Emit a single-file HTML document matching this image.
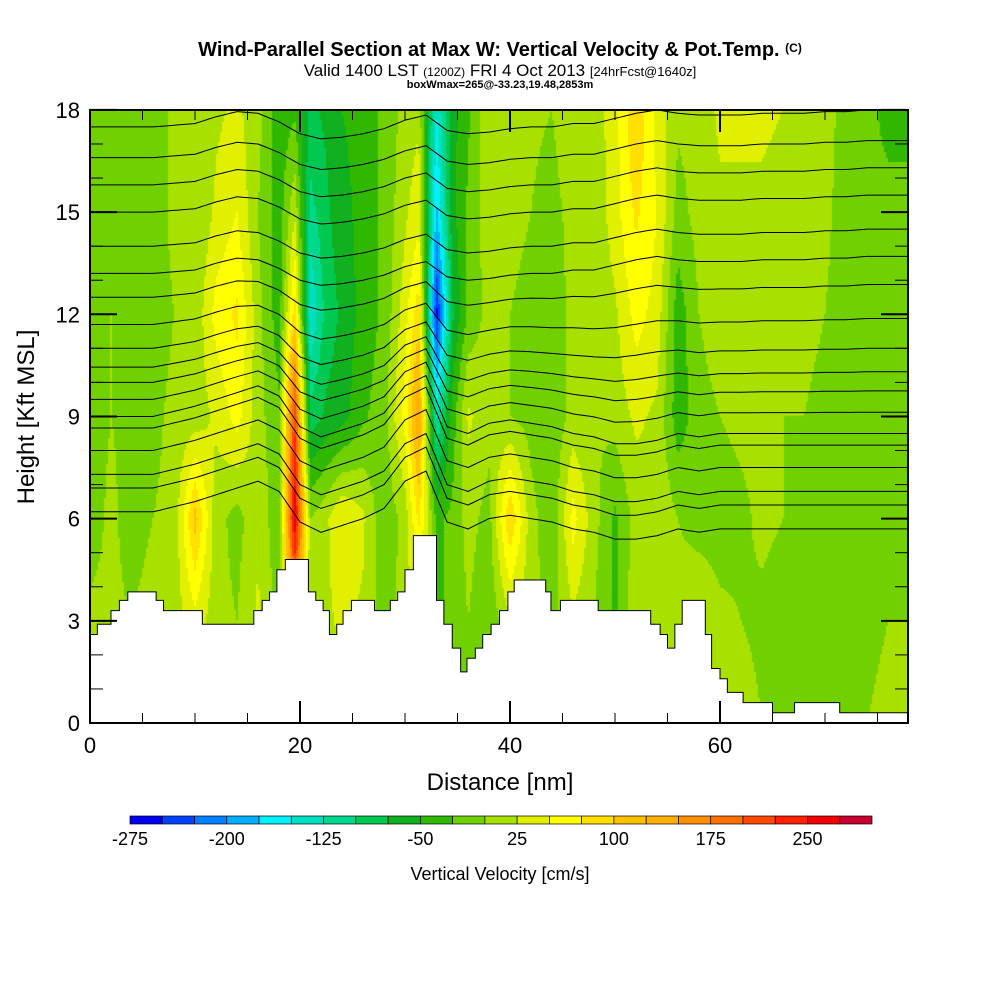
<!DOCTYPE html>
<html><head><meta charset="utf-8"><style>
body{margin:0;background:#fff;width:1000px;height:1000px;overflow:hidden;position:relative;font-family:"Liberation Sans",sans-serif}
#fld{position:absolute;left:90px;top:110px}
svg{position:absolute;left:0;top:0}
</style></head><body>
<canvas id="fld" width="818" height="613"></canvas>
<svg id="s" width="1000" height="1000">
<text x="500" y="56" text-anchor="middle" font-size="20" font-weight="bold">Wind-Parallel Section at Max W: Vertical Velocity &amp; Pot.Temp. <tspan font-size="12" dy="-4">(C)</tspan></text>
<text x="500" y="76" text-anchor="middle" font-size="17">Valid 1400 LST <tspan font-size="12">(1200Z)</tspan> FRI 4 Oct 2013 <tspan font-size="13">[24hrFcst@1640z]</tspan></text>
<text x="500" y="88" text-anchor="middle" font-size="11" font-weight="bold">boxWmax=265@-33.23,19.48,2853m</text>
<g id="cont"></g>
<path id="terr" fill="#fff" stroke="#000" stroke-width="1"/>
<g id="ax"></g>
<text x="500" y="790" text-anchor="middle" font-size="24">Distance [nm]</text>
<text transform="translate(34,417) rotate(-90)" text-anchor="middle" font-size="24">Height [Kft MSL]</text>
<g id="cb"></g>
<text x="500" y="880" text-anchor="middle" font-size="18">Vertical Velocity [cm/s]</text>
</svg>
<script>
const colX=[0,2,4,6,8,10,12,14,16,18,19.5,21,22.5,24,26,28,30,31.3,33,34.5,36,38,40,42,44,46,48,50,52,54,56,58,60,62,64,66,68,70,72,74,76,78];
const rowZ=[18,15,12,9,6,3,0];
const w18=[-10,-5,-10,-15,5,0,20,30,10,-40,-30,-80,-70,-50,-40,-20,10,20,-150,-60,-30,20,10,5,0,20,10,40,100,40,5,10,30,30,30,25,20,10,-10,-20,-30,-30];
const w15=[-10,-5,-10,-10,5,0,30,50,0,-40,20,-110,-80,-60,-40,-20,20,40,-180,-60,-20,15,5,0,-10,10,5,40,80,50,-10,10,20,20,20,15,10,5,-10,-20,-20,-20];
const w12=[-10,0,-10,-10,0,5,60,80,10,-40,90,-150,-90,-70,-40,-20,40,90,-260,-80,-20,10,0,-5,-20,10,0,20,60,40,-40,0,15,10,10,5,5,0,-10,-15,-20,-20];
const w9=[-10,0,-5,-5,5,10,30,60,10,-20,220,-90,-70,-60,-30,-10,60,150,-130,-40,30,10,0,-10,-20,10,0,10,30,20,-40,-10,0,5,5,0,0,-5,-10,-10,-15,-15];
const w6=[-10,5,-10,0,5,110,10,-10,20,-20,270,0,20,50,30,-20,10,80,-30,-20,10,-10,100,10,-20,60,10,-30,10,20,0,-10,-10,-5,5,0,-5,-10,-15,-20,-20,-20];
const w3=[5,5,0,10,10,40,10,0,30,-10,150,10,20,30,20,-10,10,40,-30,-20,0,-20,20,10,-10,20,0,-30,20,20,10,20,5,0,-5,-10,-20,-10,-20,-10,0,0];
const w0=[5,5,5,10,10,20,10,0,10,0,20,10,10,20,10,0,10,10,0,-10,0,-20,10,10,-10,10,0,-10,20,10,10,20,20,10,0,-10,-20,-10,-10,0,10,10];
const terrX=[0,0.7,2,2.8,3.6,6.3,7,10.7,15.6,16.4,17.1,17.8,18.6,20.8,21.5,22.2,22.8,23.5,24.1,24.9,27.1,28.6,29.3,30,30.8,33,33.7,34.5,35.3,35.9,36.7,37.4,38.2,39,39.8,40.4,43.4,43.9,44.8,48.4,49.3,53.4,54.3,55,55.7,56.4,58.6,59.2,60,60.7,62.2,65,67.1,71.4,78];
const terrH=[2.6,2.9,3.3,3.6,3.85,3.6,3.3,2.9,3.3,3.6,3.85,4.5,4.8,3.85,3.6,3.3,2.6,2.9,3.3,3.6,3.3,3.6,3.85,4.5,5.5,3.6,2.9,2.2,1.5,1.9,2.2,2.6,2.9,3.3,3.85,4.2,3.85,3.3,3.6,3.3,3.3,2.9,2.6,2.2,2.9,3.6,2.6,1.6,1.3,0.9,0.6,0.3,0.6,0.3,0.3];
const thetaLevels=[17.5,16.6,15.8,15.0,14.0,13.2,12.5,11.7,11.0,10.45,10.0,9.5,9.0,8.66,8.0,7.3,6.9,6.2];
const dispX=[0,2,4,6,8,10,12,14,16,18,20,22,24,26,28,30,32,34,36,38,40,42,44,46,48,50,52,54,56,58,60,62,64,66,68,70,72,74,76,78];
const dispUpper=[0,0,0,0,0.05,0.1,0.3,0.45,0.4,0.15,-0.2,-0.35,-0.3,-0.2,-0.05,0.2,0.35,-0.1,-0.2,-0.15,-0.05,0,0,0.1,0.1,0.25,0.4,0.5,0.4,0.35,0.35,0.35,0.4,0.4,0.4,0.45,0.45,0.5,0.5,0.5];
const dispLower=[0,0,0,0,0.15,0.3,0.5,0.7,0.9,0.6,-0.3,-0.6,-0.4,-0.2,0.1,0.9,1.2,-0.3,-0.5,-0.2,-0.1,-0.2,-0.3,-0.5,-0.6,-0.8,-0.8,-0.7,-0.5,-0.6,-0.5,-0.5,-0.5,-0.5,-0.5,-0.5,-0.5,-0.5,-0.5,-0.5];
const cbColors=["#0000f0","#0040ff","#0080ff","#00b0ff","#00f0ff","#00e0c0","#00d890","#00c850","#10b020","#30b800","#70d000","#a8e000","#e0f000","#ffff00","#ffe000","#ffc000","#ffb000","#ff9000","#ff7000","#ff4800","#ff2000","#f00000","#c80030"];
const cbLabels=["-275","-200","-125","-50","25","100","175","250"];
const xTicks=[0,20,40,60];
const yTicks=[0,3,6,9,12,15,18];

const L=90,R=908,T=110,B=723;
const sx=v=>L+v*10.5, sz=v=>B-v*34.06;
const NS="http://www.w3.org/2000/svg";
const rows=[w18,w15,w12,w9,w6,w3,w0];
function seg(xs,x){let i=0;while(i<xs.length-2&&x>xs[i+1])i++;return [i,Math.min(1,Math.max(0,(x-xs[i])/(xs[i+1]-xs[i])))];}
function val(x,z){const [i,f]=seg(colX,x);let j=Math.min(rowZ.length-2,Math.max(0,Math.floor((18-z)/3)));const g=Math.min(1,Math.max(0,(rowZ[j]-z)/3));
 const a=rows[j][i]*(1-f)+rows[j][i+1]*f, b=rows[j+1][i]*(1-f)+rows[j+1][i+1]*f;return a*(1-g)+b*g;}
function colorFor(v){let k=Math.floor((v+275)/25);k=Math.max(0,Math.min(cbColors.length-1,k));return cbColors[k];}
const ctx=document.getElementById('fld').getContext('2d');
for(let px=0;px<818;px+=2){const x=(px+1)/10.5;for(let py=0;py<613;py+=2){const z=(613-py-1)/34.06;ctx.fillStyle=colorFor(val(x,z));ctx.fillRect(px,py,2,2);}}
function mk(tag,at,parent){const e=document.createElementNS(NS,tag);for(const k in at)e.setAttribute(k,at[k]);parent.appendChild(e);return e;}
const cont=document.getElementById('cont');
function interp(xs,arr,x){const [i,f]=seg(xs,x);return arr[i]*(1-f)+arr[i+1]*f;}
thetaLevels.forEach((lv,n)=>{let d="";for(let x=0;x<=78;x+=0.5){const w=Math.min(1,Math.max(0,(lv-9)/4));const z=lv+interp(dispX,dispLower,x)*(1-w)+interp(dispX,dispUpper,x)*w;d+=(x?"L":"M")+sx(x).toFixed(1)+","+Math.max(T,sz(z)).toFixed(1);}
 const p=mk('path',{d:d,fill:"none",stroke:"#000","stroke-width":1},cont);
 
 });
let td="M"+L+","+B;for(let i=0;i<terrX.length-1;i++){td+="L"+sx(terrX[i])+","+sz(terrH[i])+"L"+Math.min(R,sx(terrX[i+1]))+","+sz(terrH[i]);}
td+="L"+R+","+B+"Z";document.getElementById('terr').setAttribute('d',td);
const ax=document.getElementById('ax');
mk('rect',{x:L,y:T,width:R-L,height:B-T,fill:"none",stroke:"#000","stroke-width":2},ax);
for(let v=0;v<=77;v+=5){const big=v%20==0,len=big?22:10;mk('line',{x1:sx(v),x2:sx(v),y1:B,y2:B-len,stroke:"#000","stroke-width":big?2:1},ax);mk('line',{x1:sx(v),x2:sx(v),y1:T,y2:T+len,stroke:"#000","stroke-width":big?2:1},ax);}
for(let v=0;v<=18;v++){const big=v%3==0,len=big?27:13;mk('line',{x1:L,x2:L+len,y1:sz(v),y2:sz(v),stroke:"#000","stroke-width":big?2:1},ax);mk('line',{x1:R,x2:R-len,y1:sz(v),y2:sz(v),stroke:"#000","stroke-width":big?2:1},ax);}
xTicks.forEach(v=>{const t=mk('text',{x:sx(v),y:753,"text-anchor":"middle","font-size":22},ax);t.textContent=v;
 
 });
yTicks.forEach(v=>{const t=mk('text',{x:80,y:sz(v)+8,"text-anchor":"end","font-size":22},ax);t.textContent=v;
 
 });
const cb=document.getElementById('cb');const bw=742/cbColors.length;
cbColors.forEach((c,i)=>{const r=mk('rect',{x:130+i*bw,y:816,width:bw,height:8,fill:c,stroke:"#000","stroke-width":0.7},cb);
 
 });
cbLabels.forEach((s,i)=>{const t=mk('text',{x:130+i*3*bw,y:845,"text-anchor":"middle","font-size":18},cb);t.textContent=s;
 
 });
</script>
</body></html>
